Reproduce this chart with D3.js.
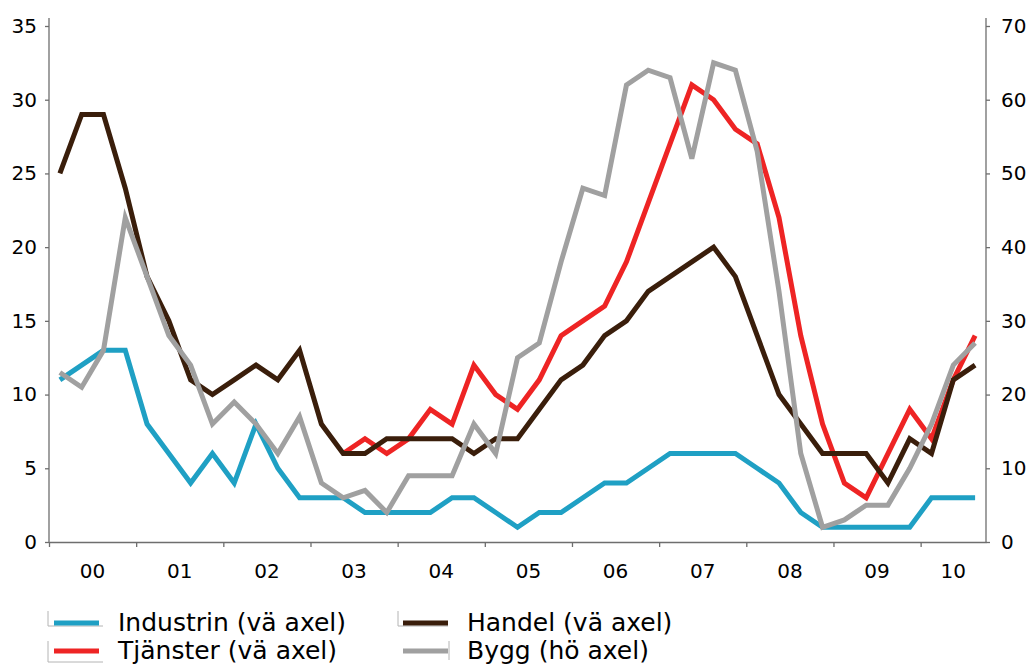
<!DOCTYPE html>
<html>
<head>
<meta charset="utf-8">
<script src="https://cdn.jsdelivr.net/npm/d3@7"></script>
<style>
  body { margin: 0; background: #fff; }
  .axis path, .axis line { stroke: #6e6e6e; stroke-width: 1.3px; }
  .axis text { font-family: "DejaVu Sans", sans-serif; font-size: 20px; fill: #000; }
  .legend text { font-family: "DejaVu Sans", sans-serif; font-size: 25px; fill: #000; }
</style>
</head>
<body>
<div id="chart"></div>
<script>
var yearLabels = ["00", "01", "02", "03", "04", "05", "06", "07", "08", "09", "10"];
var quartersPerYear = [4, 4, 4, 4, 4, 4, 4, 4, 4, 4, 3];

// quarterly balances, 2000 Q1 - 2010 Q3
var industrin = [11, 12, 13, 13, 8, 6, 4, 6, 4, 8, 5, 3, 3, 3, 2, 2, 2, 2, 3, 3, 2, 1,
  2, 2, 3, 4, 4, 5, 6, 6, 6, 6, 5, 4, 2, 1, 1, 1, 1, 1, 3, 3, 3];
var handel = [25, 29, 29, 24, 18, 15, 11, 10, 11, 12, 11, 13, 8, 6, 6, 7, 7, 7, 7, 6, 7, 7,
  9, 11, 12, 14, 15, 17, 18, 19, 20, 18, 14, 10, 8, 6, 6, 6, 4, 7, 6, 11, 12];
var tjanster = [null, null, null, null, null, null, null, null, null, null, null, null, null,
  6, 7, 6, 7, 9, 8, 12, 10, 9, 11, 14, 15, 16, 19, 23, 27, 31, 30, 28, 27, 22, 14, 8, 4, 3, 6, 9, 7, 11, 14];
var bygg = [23, 21, 26, 44, 36, 28, 24, 16, 19, 16, 12, 17, 8, 6, 7, 4, 9, 9, 9, 16, 12, 25,
  27, 38, 48, 47, 62, 64, 63, 52, 65, 64, 53, 34, 12, 2, 3, 5, 5, 10, 16, 24, 27];

var leftTicks = [0, 5, 10, 15, 20, 25, 30, 35];
var rightTicks = [0, 10, 20, 30, 40, 50, 60, 70];

var series = [
  {name: "Industrin (vä axel)", values: industrin, color: "#1fa0c4", axis: "left"},
  {name: "Handel (vä axel)", values: handel, color: "#3a1e0b", axis: "left"},
  {name: "Tjänster (vä axel)", values: tjanster, color: "#ee2424", axis: "left"},
  {name: "Bygg (hö axel)", values: bygg, color: "#a0a0a0", axis: "right"}
];

var width = 1030, height = 666;
var margin = {top: 26, right: 44, bottom: 124, left: 49};

var nQ = industrin.length;

var x = d3.scaleLinear()
  .domain([0, nQ])
  .range([margin.left, width - margin.right]);

var yLeft = d3.scaleLinear()
  .domain([0, 35])
  .range([height - margin.bottom, margin.top]);

var yRight = d3.scaleLinear()
  .domain([0, 70])
  .range([height - margin.bottom, margin.top]);

var svg = d3.select("#chart").append("svg")
  .attr("width", width)
  .attr("height", height);

// year boundaries in quarter units
var yearStart = [];
var acc = 0;
quartersPerYear.forEach(function(q) { yearStart.push(acc); acc += q; });

// axes
svg.append("g")
  .attr("class", "axis")
  .attr("transform", "translate(" + margin.left + ",0)")
  .call(d3.axisLeft(yLeft).tickValues(leftTicks).tickSize(4).tickSizeOuter(0).tickPadding(8))
  .select(".domain").attr("d", "M-0,18V" + yLeft(0));

svg.append("g")
  .attr("class", "axis")
  .attr("transform", "translate(" + (width - margin.right) + ",0)")
  .call(d3.axisRight(yRight).tickValues(rightTicks).tickSize(4).tickSizeOuter(0).tickPadding(11))
  .select(".domain").attr("d", "M0,18V" + yRight(0));

var xAxis = svg.append("g")
  .attr("class", "axis")
  .attr("transform", "translate(0," + yLeft(0) + ")")
  .call(d3.axisBottom(x).tickValues(yearStart).tickSize(5).tickSizeOuter(0).tickFormat(""));

xAxis.selectAll(".year-label")
  .data(yearLabels)
  .enter().append("text")
    .attr("class", "year-label")
    .attr("x", function(d, i) { return x(yearStart[i] + quartersPerYear[i] / 2); })
    .attr("y", 36)
    .attr("text-anchor", "middle")
    .text(function(d) { return d; });

// lines
var lineLeft = d3.line()
  .defined(function(d) { return d !== null; })
  .x(function(d, i) { return x(i + 0.5); })
  .y(function(d) { return yLeft(d); });

var lineRight = d3.line()
  .defined(function(d) { return d !== null; })
  .x(function(d, i) { return x(i + 0.5); })
  .y(function(d) { return yRight(d); });

var drawOrder = [series[0], series[2], series[1], series[3]];

svg.selectAll(".serie")
  .data(drawOrder)
  .enter().append("path")
    .attr("class", "serie")
    .attr("fill", "none")
    .attr("stroke", function(d) { return d.color; })
    .attr("stroke-width", 5)
    .attr("stroke-linejoin", "miter")
    .attr("d", function(d) { return d.axis === "left" ? lineLeft(d.values) : lineRight(d.values); });

// legend
var legendPos = [
  {x: 54, y: 623, bracket: "M48,611V626H103"},
  {x: 403, y: 623, bracket: "M398,611V626H448"},
  {x: 54, y: 651, bracket: "M48,641V662H103"},
  {x: 403, y: 651, bracket: "M449,641V660"}
];

var legend = svg.selectAll(".legend")
  .data(series)
  .enter().append("g")
    .attr("class", "legend");

legend.append("path")
  .attr("d", function(d, i) { return legendPos[i].bracket; })
  .attr("fill", "none")
  .attr("stroke", "#b4b4b4")
  .attr("stroke-width", 1);

legend.append("line")
  .attr("x1", function(d, i) { return legendPos[i].x; })
  .attr("x2", function(d, i) { return legendPos[i].x + 45; })
  .attr("y1", function(d, i) { return legendPos[i].y; })
  .attr("y2", function(d, i) { return legendPos[i].y; })
  .attr("stroke", function(d) { return d.color; })
  .attr("stroke-width", 5);

legend.append("text")
  .attr("x", function(d, i) { return legendPos[i].x + 64; })
  .attr("y", function(d, i) { return legendPos[i].y + 8; })
  .text(function(d) { return d.name; });
</script>
</body>
</html>
